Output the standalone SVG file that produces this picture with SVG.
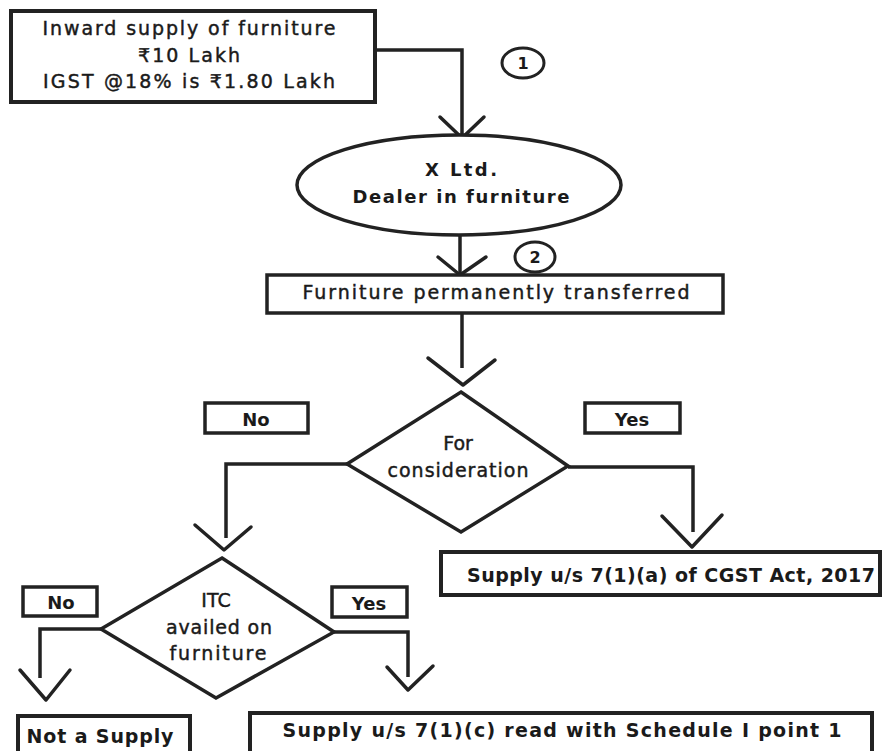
<svg xmlns="http://www.w3.org/2000/svg" width="883" height="751" viewBox="0 0 883 751">
<style>
.t{font-family:"DejaVu Sans","Noto Sans",sans-serif;font-size:19px;fill:#1a1a1a;stroke:#1a1a1a;stroke-width:0.45;text-anchor:middle}
.b{font-weight:bold;font-size:18px;stroke-width:0}
.b19{font-size:19px}
.n16{font-size:16px}
.box{fill:#fff;stroke:#222;stroke-width:4}
.lbl{fill:#fff;stroke:#222;stroke-width:3.5}
.shape{fill:#fff;stroke:#222;stroke-width:3.5}
.ln{fill:none;stroke:#222;stroke-width:3.5;stroke-linejoin:miter}
.hd{fill:none;stroke:#222;stroke-width:3.5;stroke-linejoin:round;stroke-linecap:round}
.num{fill:#fff;stroke:#222;stroke-width:3}
</style>
<rect width="883" height="751" fill="#fff"/>

<g id="connectors">
  <path class="ln" d="M375,50 H462 V136"/>
  <path class="hd" d="M440,117 L462,138 L484,117"/>
  <path class="ln" d="M460,235 V274"/>
  <path class="hd" d="M438,257 L460,275 L486,257"/>
  <path class="ln" d="M462,313 V368"/>
  <path class="hd" d="M428,358 L463,385 L495,360"/>
  <path class="ln" d="M347,464 H226 V538"/>
  <path class="hd" d="M195,525 L224,550 L251,527"/>
  <path class="ln" d="M568,467 H693 V532"/>
  <path class="hd" d="M662,516 L692,547 L722,515"/>
  <path class="ln" d="M101,629 H40 V678"/>
  <path class="hd" d="M20,670 L46,700 L70,670"/>
  <path class="ln" d="M334,632 H408 V677"/>
  <path class="hd" d="M387,667 L408,690 L433,666"/>
</g>

<g id="inward">
  <rect class="box" x="11" y="11" width="364" height="91"/>
  <text class="t" x="189" y="35" textLength="293" lengthAdjust="spacing">Inward supply of furniture</text>
  <text class="t" x="189" y="62" textLength="102" lengthAdjust="spacing">₹10 Lakh</text>
  <text class="t" x="189" y="88" textLength="292" lengthAdjust="spacing">IGST @18% is ₹1.80 Lakh</text>
</g>

<g id="step1">
  <ellipse class="num" cx="523" cy="63" rx="21" ry="15"/>
  <text class="t b n16" x="523" y="69">1</text>
</g>

<g id="xltd">
  <ellipse class="shape" cx="459" cy="185" rx="162" ry="50"/>
  <text class="t b" x="461" y="176" textLength="72" lengthAdjust="spacing">X Ltd.</text>
  <text class="t b" x="461" y="203" textLength="217" lengthAdjust="spacing">Dealer in furniture</text>
</g>

<g id="step2">
  <ellipse class="num" cx="535" cy="257" rx="20" ry="15"/>
  <text class="t b n16" x="535" y="263">2</text>
</g>

<g id="transfer">
  <rect class="shape" x="267" y="275" width="456" height="38"/>
  <text class="t" x="496" y="299" textLength="387" lengthAdjust="spacing">Furniture permanently transferred</text>
</g>

<g id="consideration">
  <path class="shape" d="M461,392 L568,466 L461,532 L347,464 Z"/>
  <text class="t" x="458" y="450">For</text>
  <text class="t" x="458" y="477" textLength="141" lengthAdjust="spacing">consideration</text>
</g>

<g id="no1">
  <rect class="lbl" x="205" y="403" width="103" height="30"/>
  <text class="t b" x="256" y="426">No</text>
</g>

<g id="yes1">
  <rect class="lbl" x="585" y="403" width="95" height="30"/>
  <text class="t b" x="632" y="426">Yes</text>
</g>

<g id="supply-a">
  <rect class="box" x="441" y="552" width="439" height="43"/>
  <text class="t b b19" x="671" y="582" textLength="408" lengthAdjust="spacing">Supply u/s 7(1)(a) of CGST Act, 2017</text>
</g>

<g id="itc">
  <path class="shape" d="M222,558 L334,632 L216,698 L101,629 Z"/>
  <text class="t" x="216" y="607">ITC</text>
  <text class="t" x="219" y="634" textLength="106" lengthAdjust="spacing">availed on</text>
  <text class="t" x="218" y="660" textLength="97" lengthAdjust="spacing">furniture</text>
</g>

<g id="no2">
  <rect class="lbl" x="23" y="587" width="74" height="29"/>
  <text class="t b" x="61" y="609">No</text>
</g>

<g id="yes2">
  <rect class="lbl" x="332" y="587" width="75" height="30"/>
  <text class="t b" x="369" y="610">Yes</text>
</g>

<g id="not-supply">
  <rect class="box" x="18" y="716" width="172" height="50"/>
  <text class="t b b19" x="100" y="743" textLength="147" lengthAdjust="spacing">Not a Supply</text>
</g>

<g id="supply-c">
  <rect class="box" x="250" y="713" width="622" height="50"/>
  <text class="t b b19" x="562" y="737" textLength="559" lengthAdjust="spacing">Supply u/s 7(1)(c) read with Schedule I point 1</text>
</g>
</svg>
